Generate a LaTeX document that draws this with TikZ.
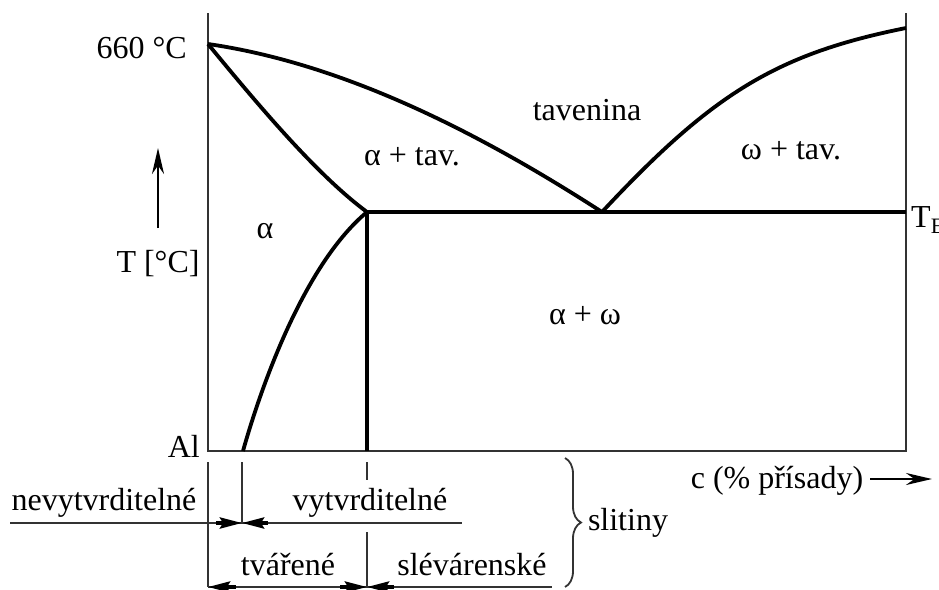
\documentclass[tikz,border=0pt]{standalone}
\usepackage{fontspec}
\setmainfont{Liberation Serif}
\usetikzlibrary{arrows.meta,decorations.pathreplacing}

\begin{document}
\begin{tikzpicture}[x=1pt,y=-1pt,
  every node/.style={font=\fontsize{32}{38}\selectfont, inner sep=0pt},
  frame/.style={line width=1.8pt, black!80},
  phase/.style={line width=3.8pt, line join=round},
  guide/.style={line width=1.4pt, black!80},
  axisarrow/.style={-{Stealth[length=26pt,width=12pt]}, line width=2.8pt},
  dimarrow/.style={-{Stealth[length=22pt,width=11pt,inset=3pt]}, line width=3.6pt}]
\useasboundingbox (0,0) rectangle (939,589);

\coordinate (TL) at (208,13);
\coordinate (BL) at (208,451);
\coordinate (BR) at (906,451);
\coordinate (TR) at (906,13);
\coordinate (melt) at (208,44);
\coordinate (eut) at (602,212);
\coordinate (sat) at (367,212);
\coordinate (top) at (906,28);
\coordinate (eutR) at (906,212);
\coordinate (foot) at (243,451);
\coordinate (satB) at (367,451);

\draw[frame] (TL) -- (BL) -- (BR) -- (TR);
\draw[phase] (melt) .. controls (339,63) and (472,128) .. (eut);
\draw[phase] (eut) .. controls (712,94) and (776,54) .. (top);
\draw[phase] (melt) .. controls (259,106) and (317,175) .. (sat);
\draw[phase] (sat) .. controls (300,268) and (257,401) .. (foot);
\draw[phase] (sat) -- (eutR);
\draw[phase] (sat) -- (satB);

\node[anchor=base east] (T660) at (187,58) {660 °C};
\node[anchor=base] (Tlab) at (158,272) {T [°C]};
\node[anchor=base east] (Al) at (200,457) {Al};
\node[anchor=base] (alpha) at (265,238) {α};
\node[anchor=base] (alphaL) at (412,165) {α + tav.};
\node[anchor=base] (liq) at (587,120) {tavenina};
\node[anchor=base] (omegaL) at (791,159) {ω + tav.};
\node[anchor=base] (alphaomega) at (585,324) {α + ω};
\node[anchor=base west] (TE) at (911,227) {T\raisebox{-6pt}{\fontsize{22}{22}\selectfont E}};
\node[anchor=base] (conc) at (777,488) {c (\% přísady)};

\coordinate (Tb) at (158,228);
\coordinate (Tt) at (158,148);
\draw[axisarrow] (Tb) -- (Tt);
\coordinate (cL) at (870,479);
\coordinate (cR) at (932,479);
\draw[axisarrow] (cL) -- (cR);

\node[anchor=base] (nevyt) at (104,510) {nevytvrditelné};
\node[anchor=base] (vyt) at (370,510) {vytvrditelné};
\node[anchor=base] (tvar) at (288,575) {tvářené};
\node[anchor=base] (slev) at (472,575) {slévárenské};
\node[anchor=base] (slit) at (628,530) {slitiny};

\coordinate (d1L) at (10,523);
\coordinate (d1R) at (462,523);
\coordinate (d1M) at (242,523);
\coordinate (d1a) at (216,523);
\coordinate (d1b) at (268,523);
\draw[guide] (d1L) -- (d1R);
\draw[dimarrow] (d1a) -- (d1M);
\draw[dimarrow] (d1b) -- (d1M);

\coordinate (d2L) at (208,587);
\coordinate (d2R) at (552,587);
\coordinate (d2M) at (367,587);
\coordinate (d2a) at (236,587);
\coordinate (d2b) at (340,587);
\coordinate (d2c) at (394,587);
\draw[guide, line width=2.4pt] (d2L) -- (d2R);
\draw[dimarrow] (d2a) -- (d2L);
\draw[dimarrow] (d2b) -- (d2M);
\draw[dimarrow] (d2c) -- (d2M);

\coordinate (v1) at (208,462);
\coordinate (v2) at (242,462);
\coordinate (v3) at (367,462);
\coordinate (v3a) at (367,480);
\coordinate (v3b) at (367,532);
\draw[guide] (v1) -- (d2L);
\draw[guide] (v2) -- (d1M);
\draw[guide] (v3) -- (v3a);
\draw[guide] (v3b) -- (d2M);

\coordinate (br1) at (565,458);
\coordinate (br2) at (565,587);
\draw[guide, line width=1.8pt, decorate, decoration={brace, amplitude=16pt}] (br1) -- (br2);
\end{tikzpicture}
\end{document}
